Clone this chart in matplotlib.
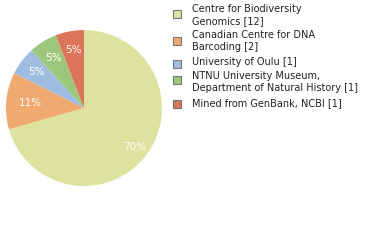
import matplotlib
matplotlib.use("Agg")
import matplotlib.pyplot as plt
from matplotlib.patches import Rectangle
import numpy as np

labels = ["Centre for Biodiversity\nGenomics [12]",
          "Canadian Centre for DNA\nBarcoding [2]",
          "University of Oulu [1]",
          "NTNU University Museum,\nDepartment of Natural History [1]",
          "Mined from GenBank, NCBI [1]"]
values = [12, 2, 1, 1, 1]
colors = ["#dde39f", "#f0aa6f", "#9fbde1", "#9ec77b", "#dc7459"]

W, H = 380, 240
fig = plt.figure(figsize=(W / 100, H / 100), dpi=100)
fig.patch.set_facecolor("white")

cx, cy, r = 84, 108, 78
ax = fig.add_axes([(cx - r) / W, (H - cy - r) / H, 2 * r / W, 2 * r / H])

def fmt(p):
    return "%d%%" % int(p)

wedges, texts, autotexts = ax.pie(values, colors=colors, startangle=90, counterclock=False,
                                  autopct=fmt, pctdistance=0.75,
                                  wedgeprops=dict(linewidth=0),
                                  textprops=dict(color="white", fontsize=7.5, family="DejaVu Sans"))
ax.set_aspect("auto")
ax.set_xlim(-1, 1)
ax.set_ylim(-1, 1)

label_dist = [0.82, 0.69, 0.76, 0.75, 0.75]
for w, t, d in zip(wedges, autotexts, label_dist):
    ang = np.deg2rad((w.theta1 + w.theta2) / 2)
    t.set_position((d * np.cos(ang), d * np.sin(ang)))

square_y = [14, 41, 64, 80, 104]
text_y = [15.2, 41, 62, 82.2, 103]
for lab, col, sy, ty in zip(labels, colors, square_y, text_y):
    fig.patches.append(Rectangle(((173) / W, (H - sy - 4) / H), 8 / W, 8 / H,
                                 transform=fig.transFigure, facecolor=col,
                                 edgecolor="#777777", linewidth=0.8))
    fig.text(192 / W, (H - ty) / H, lab, fontsize=7, va="center", ha="left",
             color="#222222", linespacing=1.25, family="DejaVu Sans")

fig.savefig("out.png", dpi=100)
